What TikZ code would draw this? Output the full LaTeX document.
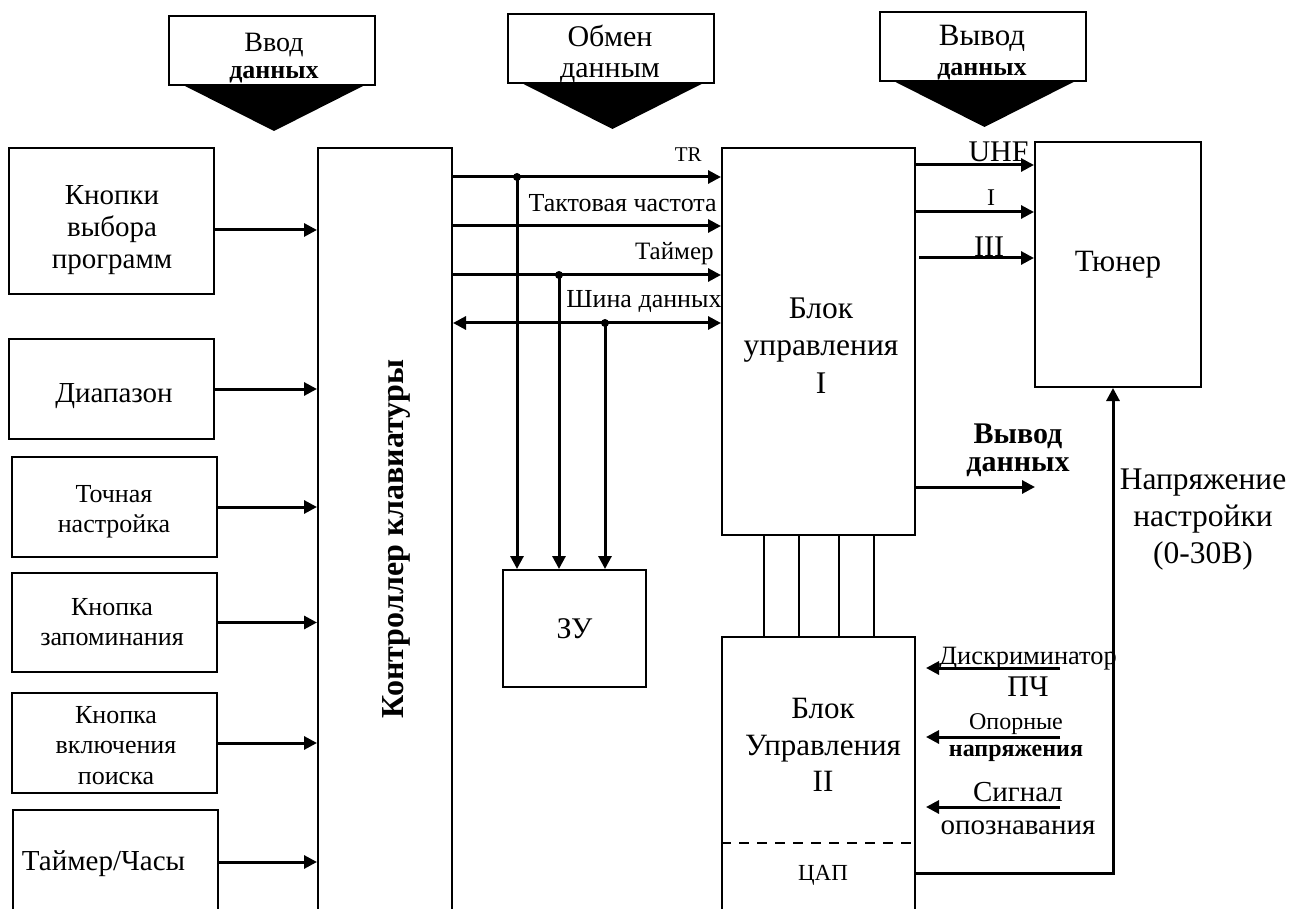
\documentclass[tikz,border=0pt]{standalone}
\usepackage{fontspec}
\setmainfont{Liberation Serif}
\usetikzlibrary{arrows.meta}
\newcommand\setfs[2]{\fontsize{#1pt}{#2pt}\selectfont}
\begin{document}
\begin{tikzpicture}[x=0.5pt,y=-0.5pt,
  box/.style={draw,line width=1pt,inner sep=0pt},
  hdr/.style={box,minimum width=103pt,minimum height=34.5pt},
  lbox/.style={box,minimum width=102.5pt,minimum height=50pt},
  txt/.style={align=center,inner sep=0pt},
  wire/.style={line width=1pt},
  arr/.style={line width=1.5pt,-{Triangle[length=6.5pt,width=6.5pt]}},
  dbl/.style={line width=1.5pt,{Triangle[length=6.5pt,width=6.5pt]}-{Triangle[length=6.5pt,width=6.5pt]}}]
\clip (0,0) rectangle (1291,909);
% headers
\node[hdr] (hin) at (272,50.5) {};
\node[hdr] (hex) at (610.5,48.5) {};
\node[hdr] (hout) at (982.5,46.5) {};
\foreach \h in {hin,hex,hout}
  \fill ([xshift=8.5pt]\h.south west) -- ([xshift=1pt,yshift=-22.5pt]\h.south) -- ([xshift=-6.5pt]\h.south east) -- cycle;
\node[txt,anchor=north,font=\setfs{14}{13.5}] (hin-t) at (274,33) {Ввод\\{\setfs{13}{13.5}\bfseries данных}};
\node[txt,anchor=north,font=\setfs{15}{15.5}] (hex-t) at (610,25) {Обмен\\данным};
\node[txt,anchor=north,font=\setfs{15.5}{15}] (hout-t) at (982,25) {Вывод\\{\setfs{13}{15}\bfseries данных}};
% input buttons
\node[box,minimum width=102.5pt,minimum height=73pt] (kn) at (111.5,221) {};
\node[lbox] (dia) at (111.5,389) {};
\node[lbox] (toch) at (114.5,507) {};
\node[lbox,minimum height=49.5pt] (zap) at (114.5,622.5) {};
\node[lbox] (poisk) at (114.5,743) {};
\node[lbox,minimum height=52pt] (tmr) at (115.5,862) {};
\node[txt,anchor=north,font=\setfs{14.5}{16}] (kn-t) at (112,185) {Кнопки\\выбора\\программ};
\node[txt,anchor=base,font=\setfs{14.5}{16}] (dia-t) at (114,402) {Диапазон};
\node[txt,anchor=north,font=\setfs{13}{15}] (toch-t) at (114,485) {Точная\\настройка};
\node[txt,anchor=north,font=\setfs{13}{15}] (zap-t) at (112,598) {Кнопка\\запоминания};
\node[txt,anchor=north,font=\setfs{13}{15.25}] (poisk-t) at (116,706) {Кнопка\\включения\\поиска};
\node[txt,anchor=base,font=\setfs{14.5}{16}] (tmr-t) at (103.5,870) {Таймер/Часы};
% controller, memory, control blocks, tuner
\node[box,minimum width=67pt,minimum height=391pt] (ctrl) at (385,539) {};
\node[txt,rotate=90,font=\setfs{16}{18}\bfseries] (ctrl-t) at (396,539) {Контроллер клавиатуры};
\node[box,minimum width=71.5pt,minimum height=58.5pt,font=\setfs{15}{17}] (zu) at (574.5,628.5) {ЗУ};
\node[box,minimum width=96.5pt,minimum height=193.5pt] (blk1) at (818.5,341.5) {};
\node[txt,anchor=north,font=\setfs{15.75}{18.75}] (blk1-t) at (821,297) {Блок\\управления\\I};
\node[box,minimum width=96.5pt,minimum height=146.5pt] (blk2) at (818.5,783.5) {};
\node[txt,anchor=north,font=\setfs{15.5}{18.25}] (blk2-t) at (823,698) {Блок\\Управления\\II};
\coordinate (cut) at (0,843);
\draw[wire,dash pattern=on 5pt off 4pt] (blk2.west |- cut) -- (blk2.east |- cut);
\node[txt,font=\setfs{11.5}{13}] (dac) at (823,875) {ЦАП};
\node[box,minimum width=83pt,minimum height=122.5pt,font=\setfs{15.5}{18}] (tuner) at (1118,264.5) {Тюнер};
% buttons to controller
\draw[arr] (kn.east |- kn-t) -- (ctrl.west |- kn-t);
\foreach \b in {dia,toch,zap,poisk,tmr}
  \draw[arr] (\b.east) -- (\b.east -| ctrl.west);
% bus
\coordinate (yTR) at (0,177);
\coordinate (yCLK) at (0,226);
\coordinate (yTMR) at (0,275);
\coordinate (yBUS) at (0,323);
\foreach \y in {yTR,yCLK,yTMR}
  \draw[arr] (ctrl.east |- \y) -- (blk1.west |- \y);
\draw[dbl] (ctrl.east |- yBUS) -- (blk1.west |- yBUS);
\node[txt,anchor=base east,font=\setfs{10.5}{12}] (lTR) at (702,162) {TR};
\node[txt,anchor=base east,font=\setfs{13}{15}] (lCLK) at (717,212) {Тактовая частота};
\node[txt,anchor=base east,font=\setfs{12.5}{15}] (lTMR) at (714,260) {Таймер};
\node[txt,anchor=base east,font=\setfs{13}{15}] (lBUS) at (722,308) {Шина данных};
\coordinate (t1) at (517,177);
\coordinate (t2) at (559,275);
\coordinate (t3) at (605,323);
\foreach \t in {t1,t2,t3} {
  \fill (\t) circle (2pt);
  \draw[arr] (\t) -- (\t |- zu.north);
}
% block I outputs
\coordinate (yUHF) at (0,165);
\coordinate (yI) at (0,212);
\coordinate (yIII) at (0,258);
\draw[arr] (blk1.east |- yUHF) -- (tuner.west |- yUHF);
\draw[arr] (blk1.east |- yI) -- (tuner.west |- yI);
\draw[arr] ([xshift=1.5pt]blk1.east |- yIII) -- (tuner.west |- yIII);
\node[txt,anchor=base,font=\setfs{15}{17}] (lUHF) at (998.5,162) {UHF};
\node[txt,anchor=base,font=\setfs{12}{14}] (lI) at (991,206) {I};
\node[txt,anchor=base,font=\setfs{15}{17}] (lIII) at (989,257) {III};
\coordinate (out) at (1035,487);
\draw[arr] (blk1.east |- out) -- (out);
\node[txt,anchor=north,font=\setfs{15}{14}\bfseries] (out-t) at (1018,423) {Вывод\\данных};
\foreach \x in {764,799,839,874}
  \draw[wire] (blk1.south -| \x,0) -- (blk2.north -| \x,0);
% block II
\coordinate (vx) at (1113,0);
\draw[arr] (blk2.east |- 0,873) -| (vx |- tuner.south);
\node[txt,anchor=north,font=\setfs{15.75}{18.5}] (lvt) at (1203,468) {Напряжение\\настройки\\(0-30В)};
\coordinate (i1) at (1060,668);
\coordinate (i2) at (1060,737);
\coordinate (i3) at (1060,807);
\foreach \i in {i1,i2,i3}
  \draw[arr] (\i) -- ++(-134,0);
\node[txt,anchor=north,font=\setfs{15}{16}] (lif) at (1028,647) {{\setfs{13.2}{16}Дискриминатор}\\ПЧ};
\node[txt,anchor=north,font=\setfs{12}{13.5}] (lref) at (1016,713) {Опорные\\\textbf{напряжения}};
\node[txt,anchor=north,font=\setfs{14.5}{16.5}] (lsig) at (1018,782) {Сигнал\\опознавания};
\end{tikzpicture}
\end{document}
